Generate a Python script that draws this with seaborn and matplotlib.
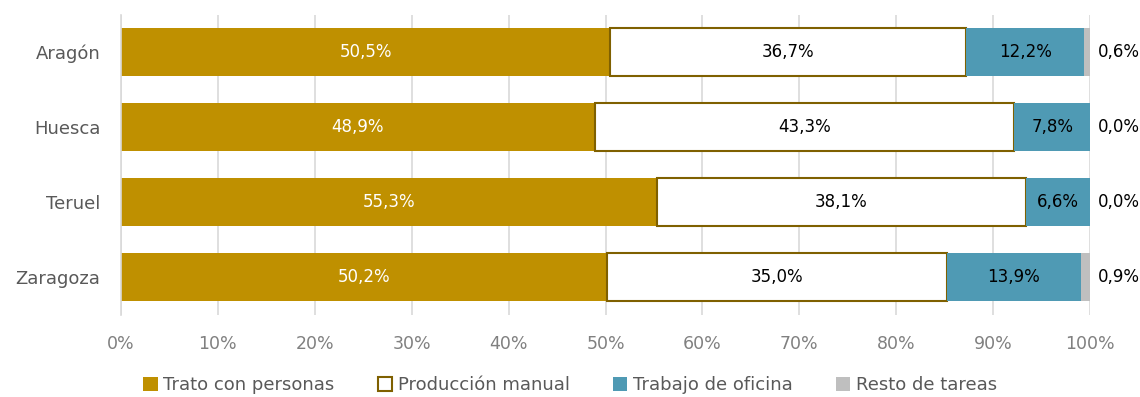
import matplotlib
matplotlib.use("Agg")
import matplotlib.pyplot as plt
import seaborn as sns
import numpy as np
import pandas as pd
from matplotlib.patches import Patch

regiones = ["Aragón", "Huesca", "Teruel", "Zaragoza"]
trato = [50.5, 48.9, 55.3, 50.2]
produccion = [36.7, 43.3, 38.1, 35.0]
oficina = [12.2, 7.8, 6.6, 13.9]
resto = [0.6, 0.0, 0.0, 0.9]

series_names = ["Trato con personas", "Producción manual", "Trabajo de oficina", "Resto de tareas"]
x_ticks = [0, 10, 20, 30, 40, 50, 60, 70, 80, 90, 100]

sns.set_theme(style="white")
plt.rcParams["font.family"] = ["DejaVu Sans"]

fig = plt.figure(figsize=(11.4, 3.97), dpi=100)
ax = fig.add_axes([121 / 1140, 1 - 314.5 / 397, (1090 - 121) / 1140, 300 / 397])

df = pd.DataFrame({"region": regiones, "Trato con personas": trato,
                   "Producción manual": produccion, "Trabajo de oficina": oficina,
                   "Resto de tareas": resto})

styles = {
    "Trato con personas": dict(color="#BF9000", edgecolor="#BF9000", linewidth=0),
    "Producción manual": dict(color="white", edgecolor="#7F6000", linewidth=1.5),
    "Trabajo de oficina": dict(color="#4F9AB4", edgecolor="#4F9AB4", linewidth=0),
    "Resto de tareas": dict(color="#BFBFBF", edgecolor="#BFBFBF", linewidth=0),
}
text_colors = {"Trato con personas": "white", "Producción manual": "black",
               "Trabajo de oficina": "black"}

left = np.zeros(len(regiones))
for name in series_names:
    st = styles[name]
    sns.barplot(data=df, x=name, y="region", order=regiones, orient="h",
                left=left.copy(), width=0.64, ax=ax, color=st["color"],
                edgecolor=st["edgecolor"], linewidth=st["linewidth"],
                saturation=1, errorbar=None)
    cont = ax.containers[-1]
    labels = [f"{v:.1f}%".replace(".", ",") for v in df[name]]
    if name == "Resto de tareas":
        ax.bar_label(cont, labels=labels, label_type="edge", padding=6,
                     fontsize=12, color="black")
    else:
        ax.bar_label(cont, labels=labels, label_type="center",
                     fontsize=12, color=text_colors[name])
    left = left + np.array(df[name])

ax.set_xlim(0, 100)
ax.set_ylim(3.5, -0.5)
ax.set_xticks(x_ticks)
ax.set_xticklabels([f"{t}%" for t in x_ticks])
ax.set_xlabel("")
ax.set_ylabel("")
ax.xaxis.grid(True, color="#D9D9D9", linewidth=1.2)
ax.set_axisbelow(True)
for s in ["top", "right", "bottom"]:
    ax.spines[s].set_visible(False)
ax.spines["left"].set_color("#D9D9D9")
ax.spines["left"].set_linewidth(1.2)
ax.tick_params(axis="x", length=0, labelsize=12.5, labelcolor="#808080", pad=15)
ax.tick_params(axis="y", length=0, labelsize=13, labelcolor="#595959", pad=15)

handles = [Patch(facecolor=styles[n]["color"], edgecolor=styles[n]["edgecolor"],
                 linewidth=1.5 if n == "Producción manual" else 0) for n in series_names]
fig.legend(handles, series_names, loc="center", bbox_to_anchor=(570 / 1140, 1 - 385 / 397),
           ncol=4, frameon=False, fontsize=13, labelcolor="#595959",
           handlelength=0.8, handleheight=0.8, handletextpad=0.3, columnspacing=2.4)

fig.savefig("out.png", dpi=100)
